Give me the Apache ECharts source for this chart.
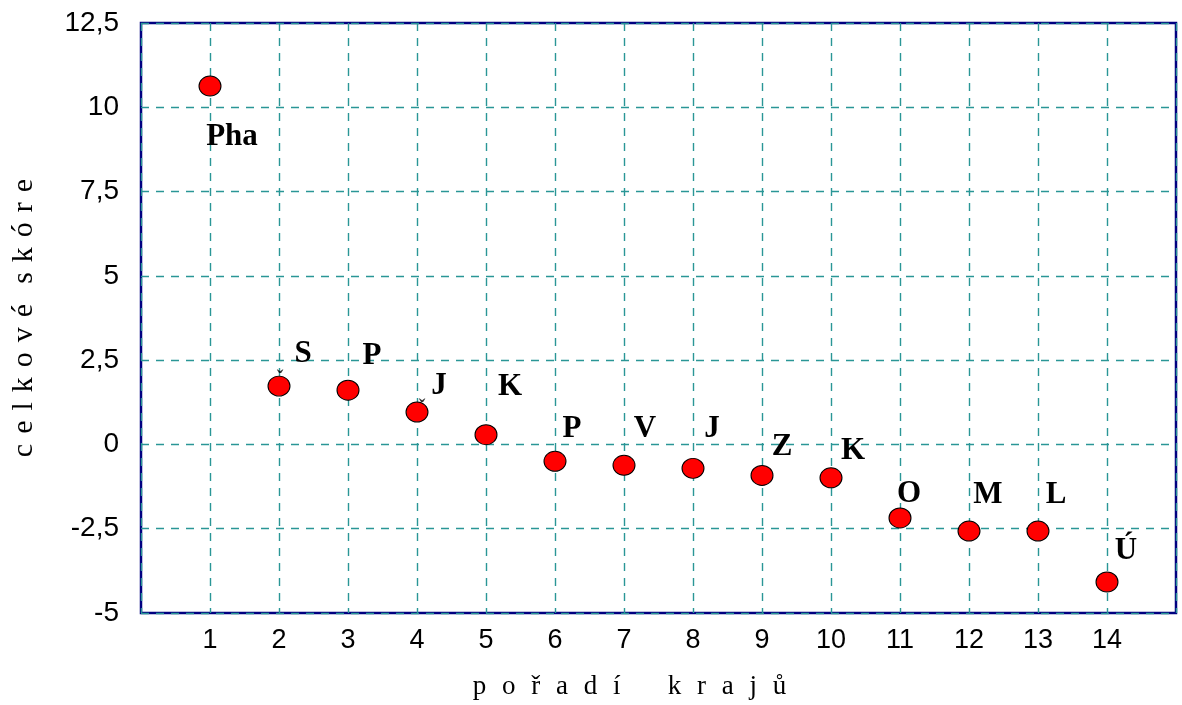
<!DOCTYPE html>
<html>
<head>
<meta charset="utf-8">
<script src="https://cdn.jsdelivr.net/npm/echarts@6/dist/echarts.min.js"></script>
<style>html,body{margin:0;padding:0;background:#fff}#c{width:1182px;height:705px}</style>
</head>
<body>
<div id="c"></div>
<script>
const ranks = [1,2,3,4,5,6,7,8,9,10,11,12,13,14];
const scores = [10.63,1.73,1.61,0.96,0.29,-0.5,-0.62,-0.71,-0.92,-0.99,-2.18,-2.57,-2.57,-4.08];
const regionLabels = ['Pha','S','P','J','K','P','V','J','Z','K','O','M','L','Ú'];
const caronRanks = [2,4];
const yTickLabels = {'-5':'-5','-2.5':'-2,5','0':'0','2.5':'2,5','5':'5','7.5':'7,5','10':'10','12.5':'12,5'};

const labelOffsets = [[22,51],[24,-32],[24,-34],[22,-26],[24,-48],[17,-32],[21,-36],[19,-39],[20,-28],[22,-27],[9,-24],[19,-36],[18,-36],[19,-31]];
const caronOffsets = [[1,-6],[5,-3]];

function spaced(word, sep){ return Array.from(word).join(sep); }
const xSep = '\u2002\u200A';
const ySep = '\u2005\u200A';
const xName = spaced('pořadí',xSep) + xSep + '\u2003\u2006' + spaced('krajů',xSep);
const yName = spaced('celkové',ySep) + ySep + '\u2004' + spaced('skóre',ySep);

const SANS = "Liberation Sans";
const SERIF = "Liberation Serif";

const chart = echarts.init(document.getElementById('c'), null, {renderer:'canvas'});
const gridColor = '#2a9696';
chart.setOption({
  animation:false,
  backgroundColor:'#fff',
  grid:{left:141,top:23,right:6,bottom:90,show:true,borderColor:'#000080',borderWidth:2.5,backgroundColor:'transparent'},
  xAxis:{
    type:'value',min:0,max:15,interval:1,
    axisLine:{show:false},axisTick:{show:false},
    splitLine:{show:true,lineStyle:{color:gridColor,type:[8,7],width:1.4}},
    axisLabel:{showMinLabel:false,showMaxLabel:false,margin:14,fontFamily:SANS,fontSize:27,color:'#000'},
    name:xName,
    nameLocation:'middle',nameGap:60,
    nameTextStyle:{fontFamily:SERIF,fontSize:27,color:'#000',verticalAlign:'top',padding:[0,58,0,0]}
  },
  yAxis:{
    type:'value',min:-5,max:12.5,interval:2.5,
    axisLine:{show:false},axisTick:{show:false},
    splitLine:{show:true,lineStyle:{color:gridColor,type:[8,7],width:1.4}},
    axisLabel:{margin:22,fontFamily:SANS,fontSize:28,color:'#000',
      formatter:v=>yTickLabels[String(v)] ?? String(v).replace('.',',')},
    name:yName,
    nameLocation:'middle',nameGap:102,
    nameTextStyle:{fontFamily:SERIF,fontSize:30,color:'#000'}
  },
  series:[
    {
      type:'scatter',
      symbol:'circle',symbolSize:[22,20],
      itemStyle:{color:'#ff0000',borderColor:'#000',borderWidth:1,opacity:1},
      data:ranks.map((r,i)=>({value:[r,scores[i]],label:{offset:labelOffsets[i]}})),
      label:{show:true,position:'inside',fontFamily:SERIF,fontWeight:'bold',fontSize:31,color:'#000',
        formatter:p=>regionLabels[p.dataIndex]},
      z:3
    },
    {
      type:'scatter',
      symbolSize:0,silent:true,
      data:caronRanks.map((r,i)=>({value:[r,scores[r-1]],label:{offset:caronOffsets[i]}})),
      label:{show:true,position:'inside',fontFamily:SERIF,fontWeight:'bold',fontSize:20,color:'#000',formatter:'ˇ'},
      z:4
    }
  ]
});
</script>
</body>
</html>
